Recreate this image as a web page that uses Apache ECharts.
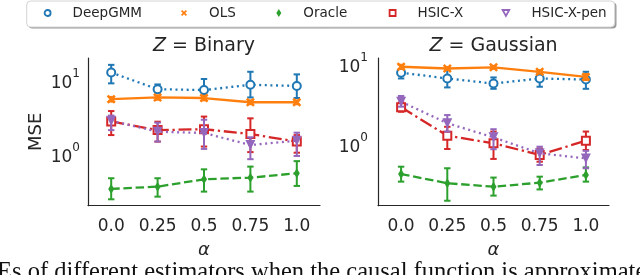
<!DOCTYPE html>
<html>
<head>
<meta charset="utf-8">
<script src="https://cdn.jsdelivr.net/npm/echarts@6/dist/echarts.min.js"></script>
<style>html,body{margin:0;padding:0;background:#fff;}#c{width:640px;height:275px;}</style>
</head>
<body>
<div id="c"></div>
<script>
// ---- data ----
const alphas = ['0.0', '0.25', '0.5', '0.75', '1.0'];
const seriesNames = ['DeepGMM', 'OLS', 'Oracle', 'HSIC-X', 'HSIC-X-pen'];

// Z = Binary
const deepgmmB = [12.6, 7.5, 7.3, 8.6, 8.3];
const deepgmmBLo = [9.0, 6.7, 6.5, 5.8, 5.7];
const deepgmmBHi = [16.0, 8.7, 10.3, 12.9, 11.9];
const olsB = [5.5, 5.8, 5.7, 5.0, 5.0];
const olsBLo = [5.1, 5.4, 5.3, 4.7, 4.7];
const olsBHi = [5.9, 6.2, 6.1, 5.3, 5.3];
const oracleB = [0.337, 0.362, 0.455, 0.479, 0.548];
const oracleBLo = [0.244, 0.265, 0.31, 0.31, 0.37];
const oracleBHi = [0.47, 0.47, 0.62, 0.675, 0.80];
const hsicxB = [2.75, 2.1, 2.16, 1.86, 1.47];
const hsicxBLo = [1.8, 1.47, 1.26, 1.06, 1.04];
const hsicxBHi = [3.8, 2.73, 3.2, 3.03, 1.8];
const hsicxpenB = [2.8, 2.0, 1.92, 1.32, 1.51];
const hsicxpenBLo = [2.1, 1.47, 1.17, 0.85, 0.94];
const hsicxpenBHi = [3.3, 2.65, 2.9, 1.68, 1.94];

// Z = Gaussian
const deepgmmG = [7.8, 6.6, 5.7, 6.6, 6.4];
const deepgmmGLo = [6.6, 5.1, 4.9, 5.2, 4.9];
const deepgmmGHi = [8.6, 8.4, 6.8, 7.65, 8.0];
const olsG = [9.25, 8.8, 9.1, 8.0, 6.9];
const olsGLo = [8.7, 8.4, 8.7, 7.6, 6.3];
const olsGHi = [9.8, 9.2, 9.5, 8.4, 7.5];
const oracleG = [0.42, 0.323, 0.292, 0.328, 0.41];
const oracleGLo = [0.338, 0.195, 0.226, 0.27, 0.338];
const oracleGHi = [0.52, 0.497, 0.38, 0.39, 0.51];
const hsicxG = [2.88, 1.27, 1.02, 0.73, 1.1];
const hsicxGLo = [2.53, 0.866, 0.65, 0.6, 0.84];
const hsicxGHi = [3.3, 1.64, 1.43, 0.88, 1.43];
const hsicxpenG = [3.38, 1.82, 1.21, 0.765, 0.66];
const hsicxpenGLo = [2.93, 1.43, 0.86, 0.546, 0.497];
const hsicxpenGHi = [3.98, 2.3, 1.53, 0.925, 0.82];

const panelTitles = ['Binary', 'Gaussian'];
const yLabel = 'MSE';
const xLabel = 'α';
const caption = 'Es of different estimators when the causal function is approximated by';

// ---- styling ----
const C = ['#1f77b4', '#ff7f0e', '#2ca02c', '#d62728', '#9467bd'];
const TXT = '#262626';
const FONT = 'DejaVu Sans';
const xPath = 'path://M0,2 L2,0 L5,3 L8,0 L10,2 L7,5 L10,8 L8,10 L5,7 L2,10 L0,8 L3,5Z';
const lw = 2.3;
const styles = [
  {symbol: 'emptyCircle', size: 8, dash: [2, 3.6], item: {color: C[0], borderWidth: 2}},
  {symbol: xPath, size: 9, dash: 'solid', item: {color: C[1]}},
  {symbol: 'diamond', size: [6, 10], dash: [8.5, 3.7], item: {color: C[2]}},
  {symbol: 'emptyRect', size: 8, dash: [13, 3.7, 2.3, 3.7], item: {color: C[3], borderWidth: 2}},
  {symbol: 'triangle', size: 10, rotate: 180, dash: [2, 3.6], item: {color: C[4]}}
];

const panels = [
  [[deepgmmB, deepgmmBLo, deepgmmBHi], [olsB, olsBLo, olsBHi], [oracleB, oracleBLo, oracleBHi], [hsicxB, hsicxBLo, hsicxBHi], [hsicxpenB, hsicxpenBLo, hsicxpenBHi]],
  [[deepgmmG, deepgmmGLo, deepgmmGHi], [olsG, olsGLo, olsGHi], [oracleG, oracleGLo, oracleGHi], [hsicxG, hsicxGLo, hsicxGHi], [hsicxpenG, hsicxpenGLo, hsicxpenGHi]]
];

function errRender(color) {
  return function (params, api) {
    const x = api.value(0), lo = api.value(1), hi = api.value(2);
    const a = api.coord([x, lo]), b = api.coord([x, hi]);
    const w = 3.2;
    const st = {stroke: color, lineWidth: 2};
    return {type: 'group', children: [
      {type: 'line', shape: {x1: a[0], y1: a[1], x2: b[0], y2: b[1]}, style: st},
      {type: 'line', shape: {x1: a[0] - w, y1: a[1], x2: a[0] + w, y2: a[1]}, style: st},
      {type: 'line', shape: {x1: b[0] - w, y1: b[1], x2: b[0] + w, y2: b[1]}, style: st}
    ]};
  };
}

const series = [];
panels.forEach((panel, pi) => {
  panel.forEach((d, si) => {
    const s = styles[si];
    series.push({
      type: 'custom', name: seriesNames[si], xAxisIndex: pi, yAxisIndex: pi,
      renderItem: errRender(C[si]), z: 2 + si, clip: false,
      itemStyle: {color: C[si]},
      data: d[0].map((v, i) => [i, d[1][i], d[2][i]]),
      silent: true
    });
    series.push({
      type: 'line', name: seriesNames[si], xAxisIndex: pi, yAxisIndex: pi,
      data: d[0], symbol: s.symbol, symbolSize: s.size, symbolRotate: s.rotate || 0,
      showAllSymbol: true, z: 2 + si,
      lineStyle: {color: C[si], width: lw, type: s.dash},
      itemStyle: s.item, animation: false
    });
  });
});

function yFmt(v) {
  const l = Math.log10(v);
  if (Math.abs(l - Math.round(l)) < 1e-6) return '{b|10}{s|' + Math.round(l) + '}';
  return '';
}
const yRich = {
  b: {fontSize: 17, fontFamily: FONT, color: TXT, lineHeight: 24, verticalAlign: 'bottom'},
  s: {fontSize: 12, fontFamily: FONT, color: TXT, verticalAlign: 'top'}
};

const grids = [
  {left: 88, top: 58, width: 232, height: 147.7},
  {left: 378, top: 58, width: 231, height: 147.7}
];
const yRanges = [[0.2, 19.8], [0.169, 11.9]];

const xAxes = grids.map((g, i) => ({
  type: 'category', gridIndex: i, data: alphas, boundaryGap: true,
  axisLine: {lineStyle: {color: TXT, width: 1.2}}, axisTick: {show: false},
  axisLabel: {interval: 0, fontSize: 17, fontFamily: FONT, color: TXT, margin: 12},
  name: xLabel, nameLocation: 'middle', nameGap: 36,
  nameTextStyle: {fontSize: 18, fontFamily: FONT, fontStyle: 'italic', color: TXT}
}));
const yAxes = grids.map((g, i) => ({
  type: 'log', logBase: 10, gridIndex: i, min: yRanges[i][0], max: yRanges[i][1],
  axisLine: {show: true, lineStyle: {color: TXT, width: 1.2}}, axisTick: {show: false},
  splitLine: {show: false}, minorTick: {show: false},
  axisLabel: {formatter: yFmt, rich: yRich, margin: i === 0 ? 8 : 10, showMinLabel: false, showMaxLabel: false},
  name: i === 0 ? yLabel : '', nameLocation: 'middle', nameGap: 43, nameRotate: 90,
  nameTextStyle: {fontSize: 18, fontFamily: FONT, color: TXT}
}));

const titles = panelTitles.map((t, i) => ({
  text: '{i|Z} = ' + t, left: grids[i].left + grids[i].width / 2, textAlign: 'center', top: 37, padding: 0,
  textStyle: {fontSize: 19, fontFamily: FONT, color: TXT, fontWeight: 'normal',
    rich: {i: {fontSize: 19, fontFamily: FONT, fontStyle: 'italic', color: TXT}}}
}));

const legendTextStart = [71.7, 209, 303.3, 416.7, 530.7];
const legendIcons = [
  {icon: 'circle', w: 6, h: 6, style: {color: '#fff', borderColor: C[0], borderWidth: 1.8}},
  {icon: xPath, w: 6, h: 6, style: {color: C[1], borderWidth: 0}},
  {icon: 'diamond', w: 5, h: 8, style: {color: C[2], borderWidth: 0}},
  {icon: 'rect', w: 6, h: 6, style: {color: '#fff', borderColor: C[3], borderWidth: 1.8}},
  {icon: 'path://M0,0 L10,0 L5,9Z', w: 7, h: 6, style: {color: '#fff', borderColor: C[4], borderWidth: 1.8}}
];
const legends = seriesNames.map((n, i) => {
  const ic = legendIcons[i];
  const pad = 17;
  return {
    left: legendTextStart[i] - pad - 5 - ic.w, top: 6, padding: 0,
    itemWidth: ic.w, itemHeight: ic.h, selectedMode: false,
    data: [{name: n, icon: ic.icon, itemStyle: ic.style}],
    textStyle: {fontSize: 13.5, fontFamily: FONT, color: TXT, padding: [0, 0, 0, pad]}
  };
});

const chart = echarts.init(document.getElementById('c'), null, {renderer: 'canvas'});
chart.setOption({
  animation: false,
  backgroundColor: '#fff',
  title: titles,
  legend: legends,
  grid: grids,
  xAxis: xAxes,
  yAxis: yAxes,
  series: series,
  graphic: [
    {type: 'rect', shape: {x: 28.5, y: 2.5, width: 588, height: 26, r: 4}, style: {fill: '#9a9a9a'}, z: -2},
    {type: 'rect', shape: {x: 26.7, y: 1, width: 588, height: 26, r: 4}, style: {fill: '#fff', stroke: '#d4d4d4', lineWidth: 1}, z: -1},
    {type: 'text', x: -3, y: 260, style: {text: caption, font: '24.5px "Liberation Serif"', fill: '#111', verticalAlign: 'top'}}
  ]
});
</script>
</body>
</html>
